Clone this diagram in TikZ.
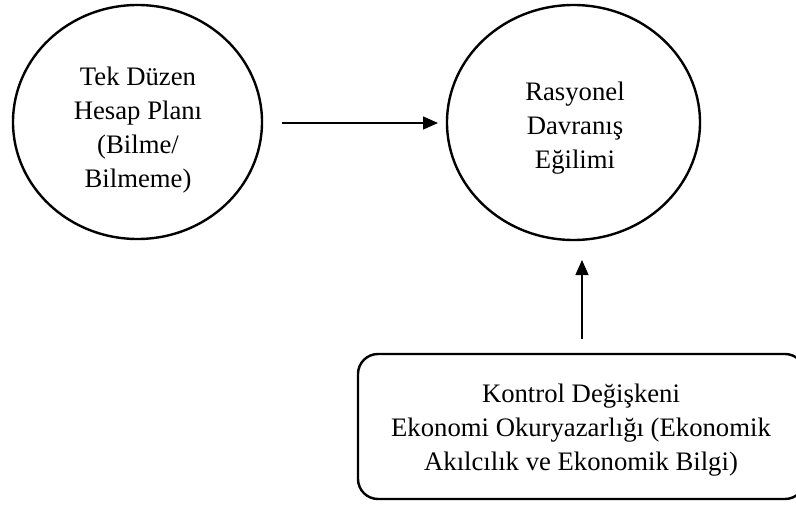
\documentclass[tikz,border=0pt]{standalone}
\usepackage{fontspec}
\setmainfont{Liberation Serif}
\usetikzlibrary{shapes.geometric,arrows.meta}
\tikzset{
  circ/.style={draw,ellipse,line width=2.4pt,inner sep=0pt},
  boxline/.style={draw,rounded corners=20pt,line width=2.4pt},
  lbl/.style={align=center,font=\fontsize{26.7}{34}\selectfont},
  arr/.style={line width=1.4pt,-{Triangle[length=15pt,width=13pt]}}
}
\begin{document}
\begin{tikzpicture}[x=1pt,y=-1pt]
\useasboundingbox (0,0) rectangle (796,511);
\node[circ,minimum width=249pt,minimum height=234pt] (L) at (137.5,122) {};
\node[lbl] (Lt) at (138,130) {Tek Düzen\\Hesap Planı\\(Bilme/\\Bilmeme)};
\node[circ,minimum width=253pt,minimum height=235pt] (R) at (573.5,122.5) {};
\node[lbl] (Rt) at (575,128) {Rasyonel\\Davranış\\Eğilimi};
\draw[boxline] (358,354) rectangle (805,499);
\node[lbl] (B) at (581,430) {Kontrol Değişkeni\\Ekonomi Okuryazarlığı (Ekonomik\\Akılcılık ve Ekonomik Bilgi)};
\coordinate (hs) at (282,123);
\coordinate (he) at (438,123);
\draw[arr] (hs) -- (he);
\coordinate (vs) at (582,339);
\coordinate (ve) at (582,260);
\draw[arr] (vs) -- (ve);
\end{tikzpicture}
\end{document}
